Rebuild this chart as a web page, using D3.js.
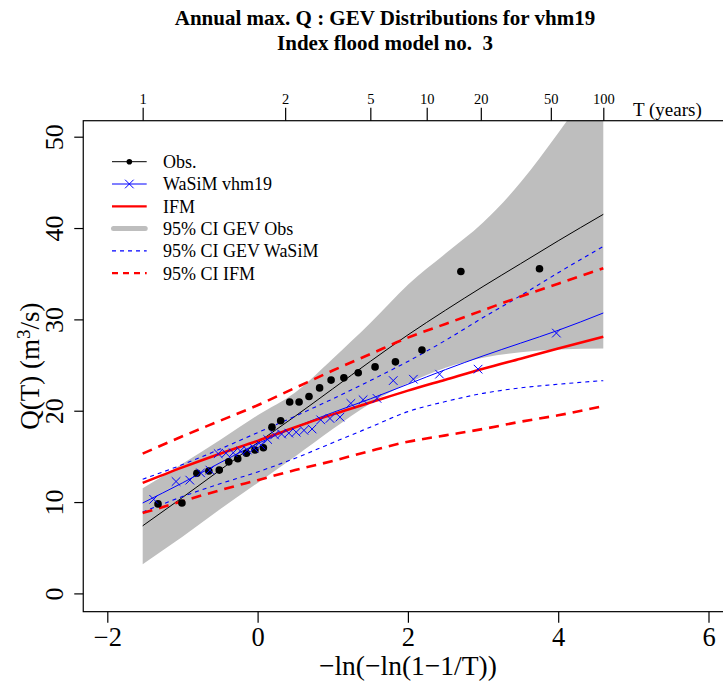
<!DOCTYPE html>
<html>
<head>
<meta charset="utf-8">
<script src="https://cdnjs.cloudflare.com/ajax/libs/d3/7.8.5/d3.min.js"></script>
<style>
  body{margin:0;background:#fff;}
  svg{display:block;font-family:"Liberation Serif","Times New Roman",serif;}
</style>
</head>
<body>
<div id="chart"></div>
<script>
// observed annual maxima, Gringorten positions on the Gumbel variate
let obsX=[-1.325,-1.007,-0.808,-0.649,-0.510,-0.384,-0.264,-0.149,-0.035,0.077,0.191,0.307,
  0.427,0.552,0.684,0.825,0.978,1.148,1.339,1.563,1.834,2.187,2.705,3.751];
let obsQ=[9.8,9.9,13.15,13.4,13.5,14.4,14.75,15.35,15.7,15.95,18.2,18.9,
  20.95,20.95,21.55,22.5,23.35,23.6,24.15,24.8,25.35,26.65,35.25,35.55];

// WaSiM simulated maxima
let wasX=[-1.383,-1.085,-0.902,-0.759,-0.635,-0.524,-0.421,-0.324,-0.230,-0.138,-0.047,0.043,
  0.134,0.226,0.319,0.415,0.514,0.617,0.725,0.840,0.963,1.096,1.241,1.404,1.589,1.805,
  2.073,2.421,2.934,3.976];
let wasQ=[10.3,12.25,12.4,13.2,13.5,15.3,15.35,15.4,15.6,15.7,15.9,16.25,
  16.85,17.35,17.45,17.55,17.65,17.85,18.0,19.0,19.15,19.3,20.8,21.2,21.35,23.3,
  23.45,24.0,24.55,28.5];

// fitted curves, read at these x positions
let curveX=[-1.529,-1,-0.5,0,0.5,1,1.5,2,2.5,3,3.5,4,4.6];
let obsFit=[7.4,10.5,13.5,16.5,19.4,22.4,25.4,28.3,31.0,33.6,36.1,38.6,41.5];
let obsLo=[3.2,6.2,9.2,12.1,15.0,18.0,20.8,23.0,24.7,25.8,26.4,26.7,26.8];
let obsHi=[11.5,14.2,16.8,19.5,22.0,25.7,29.6,33.8,37.2,40.6,45.0,50.4,57.5];
let wasFit=[9.9,12.1,14.3,16.4,18.2,19.8,21.3,22.9,24.5,26.0,27.4,28.8,30.7];
let wasHi=[12.5,14.1,15.8,17.6,19.4,21.3,23.3,25.4,27.7,30.2,32.6,35.1,38.0];
let wasLo=[8.9,10.6,12.0,13.3,14.8,16.5,18.2,19.9,21.0,21.9,22.5,22.9,23.3];
let ifmFit=[12.1,13.8,15.3,16.7,18.2,19.6,20.9,22.2,23.4,24.6,25.7,26.8,28.1];
let ifmHi=[15.3,17.2,18.9,20.6,22.5,24.4,26.2,28.0,29.5,31.0,32.5,33.9,35.6];
let ifmLo=[8.8,10.1,11.3,12.4,13.5,14.5,15.6,16.6,17.3,18.0,18.8,19.5,20.5];

let xTicks=[-2,0,2,4,6];
let yTicks=[0,10,20,30,40,50];
let tTicks=[1.01,2,5,10,20,50,100];
let tLabels=["1","2","5","10","20","50","100"];

let legendLabels=["Obs.","WaSiM vhm19","IFM","95% CI GEV Obs","95% CI GEV WaSiM","95% CI IFM"];

let W=723,H=684;
let svg=d3.select('#chart').append('svg').attr('width',W).attr('height',H);

let x=d3.scaleLinear().domain([-2,6]).range([107.3,708.5]);
let y=d3.scaleLinear().domain([0,50]).range([593.4,136.7]);
let usrX=[-2.32,6.32], usrY=[-2,51.75];
let pl=x(usrX[0]), pr=x(usrX[1]), pt=y(usrY[1]), pb=y(usrY[0]);

svg.append('clipPath').attr('id','plotClip')
  .append('rect').attr('x',pl).attr('y',pt).attr('width',pr-pl).attr('height',pb-pt);

let plot=svg.append('g').attr('clip-path','url(#plotClip)');

function pts(ys){ return curveX.map((v,i)=>({x:v,q:ys[i]})); }

// gray CI band for obs
let band=curveX.map((v,i)=>({x:v,lo:obsLo[i],hi:obsHi[i]}));
plot.append('path')
  .datum(band)
  .attr('d',d3.area().x(d=>x(d.x)).y0(d=>y(d.lo)).y1(d=>y(d.hi)).curve(d3.curveMonotoneX))
  .attr('fill','#bebebe');

let line=d3.line().x(d=>x(d.x)).y(d=>y(d.q)).curve(d3.curveMonotoneX);

function drawLine(ys,color,width,dash){
  plot.append('path').datum(pts(ys))
    .attr('d',line)
    .attr('fill','none')
    .attr('stroke',color)
    .attr('stroke-width',width)
    .attr('stroke-dasharray',dash||null);
}

drawLine(obsFit,'#000',1);
drawLine(wasFit,'#0000ff',1);
drawLine(wasHi,'#0000ff',1.1,'4,4');
drawLine(wasLo,'#0000ff',1.1,'4,4');
drawLine(ifmFit,'#ff0000',2.6);
drawLine(ifmHi,'#ff0000',2.6,'10,7');
drawLine(ifmLo,'#ff0000',2.6,'10,7');

// points
plot.selectAll('.obs')
  .data(obsX.map((v,i)=>({x:v,q:obsQ[i]})))
  .enter().append('circle')
  .attr('class','obs')
  .attr('cx',d=>x(d.x)).attr('cy',d=>y(d.q)).attr('r',3.8)
  .attr('fill','#000');

let cross='M-4.3,-4.3L4.3,4.3M-4.3,4.3L4.3,-4.3';
plot.selectAll('.was')
  .data(wasX.map((v,i)=>({x:v,q:wasQ[i]})))
  .enter().append('path')
  .attr('class','was')
  .attr('d',cross)
  .attr('transform',d=>'translate('+x(d.x)+','+y(d.q)+')')
  .attr('stroke','#0000ff').attr('stroke-width',1).attr('fill','none');

// box (right side is off the page)
svg.append('rect').attr('x',pl).attr('y',pt).attr('width',pr-pl).attr('height',pb-pt)
  .attr('fill','none').attr('stroke','#000').attr('stroke-width',1.2);

// axes
let gx=svg.append('g').attr('transform','translate(0,'+pb+')')
  .call(d3.axisBottom(x).tickValues(xTicks).tickSize(11).tickFormat(d3.format('d')));
gx.select('.domain').remove();
gx.selectAll('text').attr('y',34).attr('dy',0)
  .style('font-size','26.5px').style('font-family','"Liberation Serif",serif');

let gy=svg.append('g').attr('transform','translate('+pl+',0)')
  .call(d3.axisLeft(y).tickValues(yTicks).tickSize(9).tickFormat(d3.format('d')));
gy.select('.domain').remove();
gy.selectAll('text')
  .attr('transform','rotate(-90)')
  .attr('x',0).attr('y',-20).attr('dy',0)
  .attr('text-anchor','middle')
  .style('font-size','26px').style('font-family','"Liberation Serif",serif');

let gumbel=t=>-Math.log(-Math.log(1-1/t));
let gt=svg.append('g').attr('transform','translate(0,'+pt+')')
  .call(d3.axisTop(x).tickValues(tTicks.map(gumbel)).tickSize(13)
    .tickFormat((d,i)=>tLabels[i]));
gt.select('.domain').remove();
gt.selectAll('text').attr('y',-17).attr('dy',0)
  .style('font-size','14.5px').style('font-family','"Liberation Serif",serif');
svg.selectAll('.tick line').attr('stroke-width',1.2);

svg.append('text').attr('x',633).attr('y',pt-5)
  .style('font-size','19px').text('T (years)');

// titles
let tx=385;
svg.append('text').attr('x',tx).attr('y',25).attr('text-anchor','middle')
  .style('font-size','21px').style('font-weight','bold')
  .text('Annual max. Q : GEV Distributions for vhm19');
svg.append('text').attr('x',tx).attr('y',50).attr('text-anchor','middle')
  .style('font-size','21px').style('font-weight','bold').style('white-space','pre')
  .text('Index flood model no.  3');

let cx=(pl+pr)/2;
svg.append('text').attr('x',cx).attr('y',675).attr('text-anchor','middle')
  .style('font-size','27.5px').text('\u2212ln(\u2212ln(1\u22121/T))');

let yl=svg.append('text')
  .attr('transform','translate(39,'+((pt+pb)/2)+') rotate(-90)')
  .attr('text-anchor','middle').style('font-size','27px');
yl.append('tspan').text('Q(T) (m');
yl.append('tspan').attr('dy',-9).style('font-size','19px').text('3');
yl.append('tspan').attr('dy',9).text('/s)');

// legend
let lg=svg.append('g');
let ly0=161.7, lstep=22.3, lx0=112, lx1=146.7;
legendLabels.forEach((lab,i)=>{
  let ly=ly0+i*lstep;
  let seg=lg.append('line').attr('x1',lx0).attr('x2',lx1).attr('y1',ly).attr('y2',ly);
  if(i==0){ seg.attr('stroke','#000').attr('stroke-width',1);
    lg.append('circle').attr('cx',(lx0+lx1)/2).attr('cy',ly).attr('r',2.8).attr('fill','#000'); }
  if(i==1){ seg.attr('stroke','#0000ff').attr('stroke-width',1);
    lg.append('path').attr('d',cross).attr('transform','translate('+((lx0+lx1)/2)+','+ly+')')
      .attr('stroke','#0000ff').attr('fill','none'); }
  if(i==2){ seg.attr('stroke','#ff0000').attr('stroke-width',2.2); }
  if(i==3){ seg.attr('stroke','#bebebe').attr('stroke-width',5).attr('stroke-linecap','round')
      .attr('x1',lx0+1.5).attr('x2',lx1-1.5); }
  if(i==4){ seg.attr('stroke','#0000ff').attr('stroke-width',1.1).attr('stroke-dasharray','4,4'); }
  if(i==5){ seg.attr('stroke','#ff0000').attr('stroke-width',2.2).attr('stroke-dasharray','6,5'); }
  lg.append('text').attr('x',163).attr('y',ly).attr('dy','0.35em')
    .style('font-size','18px').text(lab);
});
</script>
</body>
</html>
